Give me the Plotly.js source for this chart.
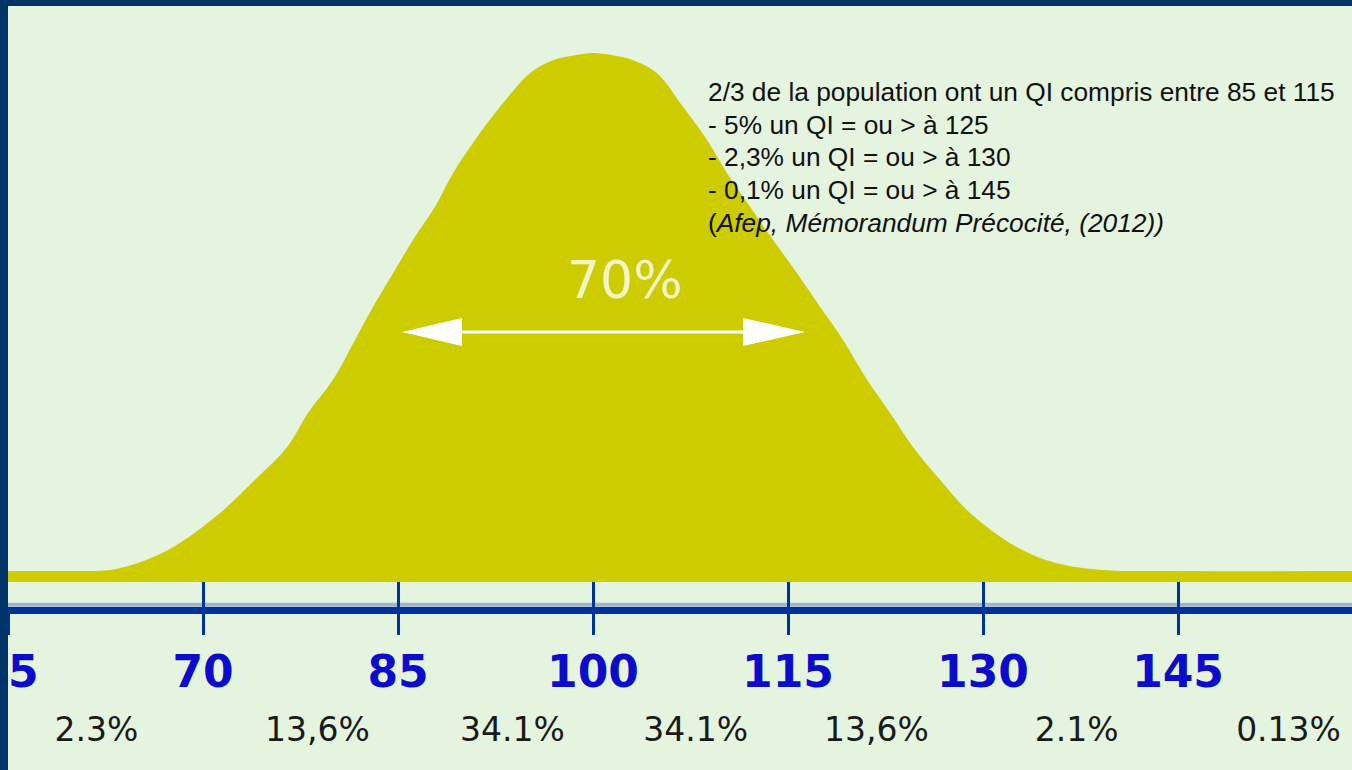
<!DOCTYPE html>
<html>
<head>
<meta charset="utf-8">
<script src="https://cdn.plot.ly/plotly-3.0.1.min.js"></script>
<style>
  html, body { margin: 0; padding: 0; background: #003366; }
  #chart { width: 1352px; height: 770px; }
</style>
</head>
<body>
<div id="chart"></div>
<script>
// ---- Data ----
// IQ scores along the curve and the relative height of the bell curve (peak = 100)
const iqPoints = [54.5, 60.0, 62.85, 64.92, 67.69, 71.31, 74.0, 76.46, 78.08, 80.0, 81.69, 83.08, 84.62, 86.15, 87.85, 89.23, 90.92, 92.85, 95.15, 96.92, 98.7, 100.0, 101.4, 103.08, 104.92, 106.92, 108.77, 110.31, 112.08, 113.85, 115.69, 117.46, 119.23, 121.08, 122.85, 124.62, 126.69, 129.0, 132.62, 135.69, 139.23, 145.0, 158.4];
const relHeight = [0, 0, 0.2, 1.5, 4.6, 11.2, 17.6, 23.9, 30.5, 36.9, 44.6, 51.0, 57.5, 63.9, 70.3, 76.8, 83.2, 89.6, 96.1, 98.6, 99.6, 100, 99.6, 98.6, 96.1, 89.6, 83.2, 76.8, 70.3, 63.9, 57.5, 51.0, 44.6, 36.9, 30.5, 23.9, 17.6, 11.2, 4.6, 1.5, 0.2, 0, 0];

// Axis tick values / labels
const tickValues = [55, 70, 85, 100, 115, 130, 145];
const tickLabels = ["55", "70", "85", "100", "115", "130", "145"];

// Share of population per band (label centres in IQ units)
const bandCentres = [61.8, 78.8, 93.8, 107.9, 121.8, 137.2, 153.5];
const bandShares = ["2.3%", "13,6%", "34.1%", "34.1%", "13,6%", "2.1%", "0.13%"];

// Central interval marked by the double arrow
const centralShare = "70%";
const arrowFrom = 85.31, arrowTo = 116.31;

const infoLines = [
  "2/3 de la population ont un QI compris entre 85 et 115",
  "- 5% un QI = ou &gt; à 125",
  "- 2,3% un QI = ou &gt; à 130",
  "- 0,1% un QI = ou &gt; à 145",
  "(<i>Afep, Mémorandum Précocité, (2012))</i>"
];

// ---- Styling ----
const BG = "#e5f4df", BORDER = "#003366", CURVE = "#cccc00", AXIS = "#003399";
const X_RANGE = [55, 158.38];
const Y_RANGE = [-38.42, 109.07];
const BASE = -2.12;          // bottom of the yellow ground band
const LABEL_ROW = -31.3;     // row of percentage labels
const AXIS_POS = 0.2094;     // axis line position (paper fraction)
const PLOT_H = 764;          // plot area height in px
const INFO_TOP_PX = 92, INFO_STEP_PX = 32.7;

const baseline = {
  x: [X_RANGE[0] - 2, X_RANGE[1] + 2], y: [BASE, BASE],
  mode: "lines", line: { width: 0, color: CURVE }, hoverinfo: "skip", xaxis: "x", yaxis: "y"
};
const curve = {
  x: iqPoints, y: relHeight, mode: "lines",
  line: { width: 0, color: CURVE, shape: "spline", smoothing: 1.0 },
  fill: "tonexty", fillcolor: CURVE, hoverinfo: "skip", xaxis: "x", yaxis: "y"
};
const shares = {
  x: bandCentres, y: bandCentres.map(() => LABEL_ROW),
  mode: "text", text: bandShares, textposition: "middle center",
  textfont: { family: "DejaVu Sans", size: 33, color: "#1a1a1a" },
  hoverinfo: "skip", xaxis: "x2", yaxis: "y", cliponaxis: false
};

const infoAnnotations = infoLines.map((t, i) => ({
  xref: "paper", yref: "paper", x: 0.519,
  y: (770 - (INFO_TOP_PX + i * INFO_STEP_PX)) / PLOT_H,
  xanchor: "left", yanchor: "middle", align: "left", text: t, showarrow: false,
  font: { family: "Liberation Sans", size: 26.3, color: "#111111" }
}));

const ay = 46.14, ah = 2.7;
const layout = {
  width: 1352, height: 770,
  margin: { l: 8, r: 0, t: 6, b: 0, pad: 0 },
  paper_bgcolor: BORDER, plot_bgcolor: BG,
  showlegend: false,
  xaxis: {
    range: X_RANGE, tickvals: tickValues, ticktext: tickLabels,
    showgrid: false, zeroline: false,
    showline: true, linecolor: AXIS, linewidth: 7,
    ticks: "inside", ticklen: 25, tickwidth: 3, tickcolor: AXIS,
    anchor: "free", position: AXIS_POS, side: "bottom",
    ticklabelstandoff: 20, ticklabeloverflow: "allow",
    tickfont: { family: "DejaVu Sans", size: 44, color: "#0c0ccc", weight: "bold" },
    fixedrange: true
  },
  xaxis2: {
    range: X_RANGE, matches: "x", overlaying: "x",
    tickvals: tickValues, showticklabels: false,
    showgrid: false, zeroline: false, showline: false,
    ticks: "outside", ticklen: 24, tickwidth: 3, tickcolor: AXIS,
    anchor: "free", position: AXIS_POS, side: "bottom", fixedrange: true
  },
  yaxis: { range: Y_RANGE, visible: false, fixedrange: true },
  shapes: [
    { type: "line", xref: "paper", yref: "paper", x0: 0, x1: 1, y0: 0.2162, y1: 0.2162,
      line: { color: "#a0b4cf", width: 4 }, layer: "below" },
    { type: "line", xref: "x", yref: "y", x0: 89.9, x1: 111.6, y0: ay, y1: ay,
      line: { color: "#ffffff", width: 3 } },
    { type: "path", xref: "x", yref: "y",
      path: `M ${arrowFrom},${ay} L 89.92,${ay + ah} L 89.92,${ay - ah} Z`,
      fillcolor: "#ffffff", line: { width: 0 } },
    { type: "path", xref: "x", yref: "y",
      path: `M ${arrowTo},${ay} L 111.54,${ay + ah} L 111.54,${ay - ah} Z`,
      fillcolor: "#ffffff", line: { width: 0 } },
    { type: "rect", xref: "paper", yref: "paper", x0: -0.006, x1: 0, y0: -0.01, y1: 1.01,
      fillcolor: BORDER, line: { width: 0 }, layer: "above" }
  ],
  annotations: [
    { xref: "x", yref: "y", x: 102.46, y: 56.1, text: centralShare, showarrow: false,
      font: { family: "DejaVu Sans", size: 52, color: "#f4f4c6" } }
  ].concat(infoAnnotations)
};

Plotly.newPlot("chart", [baseline, curve, shares], layout, { staticPlot: true, displayModeBar: false });
</script>
</body>
</html>
